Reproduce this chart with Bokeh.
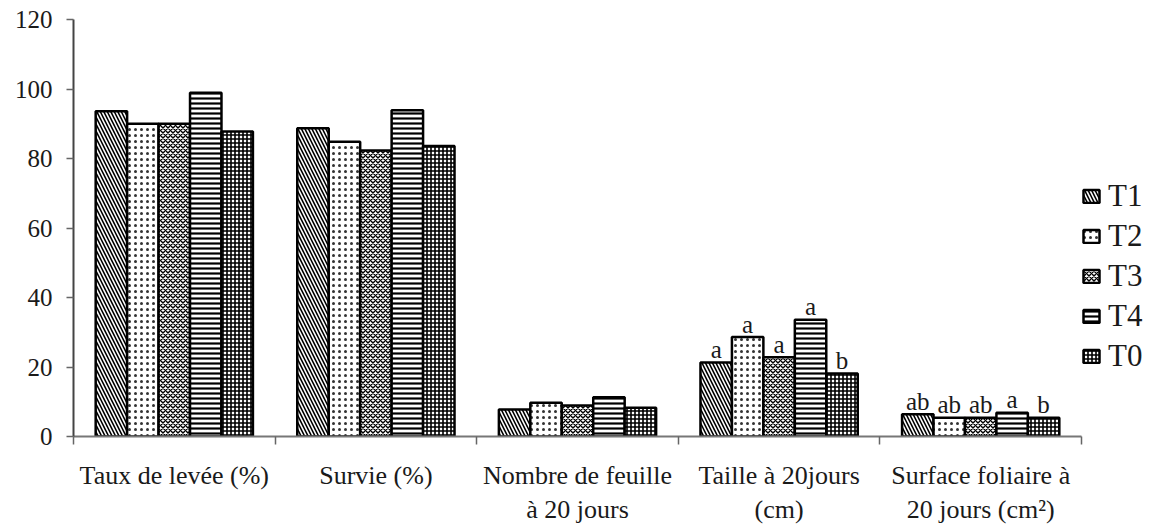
from bokeh.plotting import figure
from bokeh.models import (ColumnDataSource, FixedTicker, Legend, LegendItem, Range1d)
from bokeh.embed import file_html
from bokeh.resources import INLINE
from bokeh.core.properties import value

# Measured variables (x-axis groups)
categories = [
    "Taux de levée (%)",
    "Survie (%)",
    "Nombre de feuille\nà 20 jours",
    "Taille à 20jours\n(cm)",
    "Surface foliaire à\n20 jours (cm²)",
]
treatments = ["T1", "T2", "T3", "T4", "T0"]

# Mean values per treatment, one value per variable
t1 = [93.6, 88.7, 7.8, 21.3, 6.4]
t2 = [90.0, 84.8, 9.7, 28.6, 5.4]
t3 = [90.0, 82.3, 8.9, 22.8, 5.4]
t4 = [98.9, 93.9, 11.3, 33.6, 6.8]
t0 = [87.8, 83.6, 8.3, 18.1, 5.4]

# Significance letters (empty where no test letter is shown)
letters_t1 = ["", "", "", "a", "ab"]
letters_t2 = ["", "", "", "a", "ab"]
letters_t3 = ["", "", "", "a", "ab"]
letters_t4 = ["", "", "", "a", "a"]
letters_t0 = ["", "", "", "b", "b"]

y_ticks = [0, 20, 40, 60, 80, 100, 120]

series = [t1, t2, t3, t4, t0]
letters = [letters_t1, letters_t2, letters_t3, letters_t4, letters_t0]

# Fill patterns per treatment
styles = [
    dict(hatch_pattern="\\", hatch_scale=7, hatch_weight=1.6),
    dict(hatch_pattern=".", hatch_scale=6, hatch_weight=1.0, hatch_alpha=0.8),
    dict(hatch_pattern="x", hatch_scale=5, hatch_weight=1.4),
    dict(hatch_pattern="-", hatch_scale=5, hatch_weight=2.2),
    dict(hatch_pattern="+", hatch_scale=4, hatch_weight=1.6),
]

FONT = "Liberation Serif"
TXT = "#1a1a1a"
bar_w = 0.156

# The plot area runs to the right edge so the legend can sit beside the bars;
# the x axis itself is bounded to the five groups.
W, H, LEFT = 1167, 527, 73
GROUP_PX = 1008
n = len(categories)
x_end = n * (W - LEFT) / GROUP_PX

p = figure(width=W, height=H, output_backend="svg", toolbar_location=None,
           x_range=Range1d(0, x_end), y_range=Range1d(0, 120),
           min_border_left=LEFT, min_border_right=0, min_border_top=19,
           min_border_bottom=82)
p.outline_line_color = None
p.xgrid.visible = False
p.ygrid.visible = False
p.background_fill_color = "white"

items = []
for j, (name, vals, lets, st) in enumerate(zip(treatments, series, letters, styles)):
    xs = [g + 0.5 + (j - 2) * bar_w for g in range(n)]
    src = ColumnDataSource(dict(x=xs, top=vals, lab=lets))
    r = p.vbar(x="x", top="top", width=bar_w, source=src,
               fill_color="white", hatch_color="black",
               line_color="black", line_width=2.5, **st)
    p.text(x="x", y="top", text="lab", source=src, text_align="center",
           text_baseline="alphabetic", y_offset=-13,
           text_font=value(FONT), text_font_size="25px", text_color=TXT)
    items.append(LegendItem(label=name, renderers=[r]))

# Y axis
ya = p.yaxis[0]
ya.ticker = FixedTicker(ticks=y_ticks, minor_ticks=[])
ya.major_tick_out = 7
ya.major_tick_in = 0
ya.axis_line_color = "#444444"
ya.axis_line_width = 2
ya.major_tick_line_color = "#666666"
ya.major_tick_line_width = 1.5
ya.major_label_text_font = FONT
ya.major_label_text_font_size = "25px"
ya.major_label_text_color = TXT
ya.major_label_standoff = 14

# X axis: labels centred on groups, tick marks at group boundaries
xa = p.xaxis[0]
xa.bounds = (0, n)
centers = [g + 0.5 for g in range(n)]
xa.ticker = FixedTicker(ticks=centers, minor_ticks=list(range(n + 1)))
xa.major_label_overrides = {c: lab for c, lab in zip(centers, categories)}
xa.major_tick_out = 0
xa.major_tick_in = 0
xa.minor_tick_out = 8
xa.minor_tick_in = 0
xa.minor_tick_line_color = "#666666"
xa.minor_tick_line_width = 1.5
xa.axis_line_color = "#777777"
xa.axis_line_width = 2
xa.major_label_text_font = FONT
xa.major_label_text_font_size = "26px"
xa.major_label_text_color = TXT
xa.major_label_standoff = 16

legend = Legend(items=items, location=(1008, 62), orientation="vertical",
                label_text_font=FONT, label_text_font_size="31px",
                label_text_color=TXT, glyph_width=20, glyph_height=16,
                label_standoff=7, spacing=4, padding=12, margin=0,
                border_line_color=None, background_fill_alpha=0)
p.add_layout(legend)

open("out.html", "w").write(file_html(p, INLINE))
